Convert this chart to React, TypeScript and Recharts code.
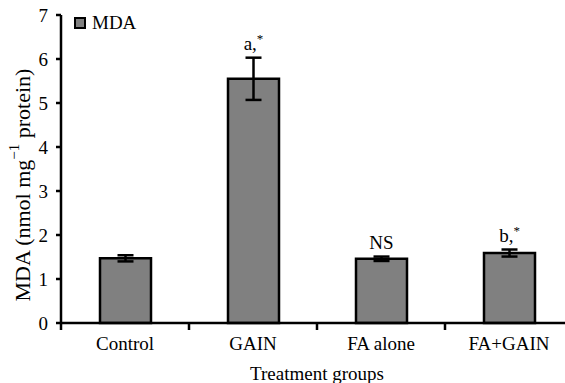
import React from "react";
import { BarChart, Bar, XAxis, YAxis, ErrorBar, LabelList, Legend, Label } from "recharts";

const categories = ["Control", "GAIN", "FA alone", "FA+GAIN"];
const mdaValues = [1.47, 5.55, 1.46, 1.59];
const mdaErrors = [0.07, 0.48, 0.05, 0.08];
const annotations = ["", "a,*", "NS", "b,*"];
const yTicks = [0, 1, 2, 3, 4, 5, 6, 7];

const data = categories.map((c, i) => ({ name: c, mda: mdaValues[i], err: mdaErrors[i] }));

const FONT = "'Liberation Serif', 'Times New Roman', serif";
const FS = 19;
const CHART_W = 573;
const Y_W = 61;
const MARGIN = { top: 15, right: 0, bottom: 0, left: 0 };
const BAND = (CHART_W - Y_W - MARGIN.right) / categories.length;

const XTick = (props: any) => {
  const { x, y, payload } = props;
  return (
    <g>
      <line x1={x - BAND / 2} x2={x - BAND / 2} y1={y} y2={y + 7} stroke="#000" strokeWidth={2.5} />
      <text x={x} y={y + 27} textAnchor="middle" fontFamily={FONT} fontSize={FS} fill="#000">
        {payload.value}
      </text>
    </g>
  );
};

const XLabel = (props: any) => {
  const { viewBox } = props;
  return (
    <text x={viewBox.x + viewBox.width / 2} y={viewBox.y + 57} textAnchor="middle" fontFamily={FONT} fontSize={FS} fill="#000">
      Treatment groups
    </text>
  );
};

const NoteLabel = (props: any) => {
  const { x, y, width, height, value, index } = props;
  const note = annotations[index];
  if (!note) return null;
  const ppu = height / value;
  const top = y - mdaErrors[index] * ppu;
  const cx = x + width / 2;
  const parts = note.split("*");
  const hasStar = note.includes("*");
  return (
    <text x={cx} y={top - 8} textAnchor="middle" fontFamily={FONT} fontSize={FS} fill="#000">
      <tspan>{parts[0]}</tspan>
      {hasStar && <tspan dy={-7} fontSize={13}>*</tspan>}
    </text>
  );
};

const YLabel = () => {
  const cx = 22;
  const cy = 185;
  return (
    <text x={cx} y={cy} transform={`rotate(-90, ${cx}, ${cy})`} textAnchor="middle" dominantBaseline="central" fontFamily={FONT} fontSize={22} fill="#000">
      <tspan>MDA (nmol mg</tspan>
      <tspan dy={-8} fontSize={15}>−1</tspan>
      <tspan dy={8}> protein)</tspan>
    </text>
  );
};

const LegendContent = () => (
  <div style={{ display: "flex", alignItems: "center", fontFamily: FONT, fontSize: FS, lineHeight: "20px", color: "#000" }}>
    <svg width={12} height={12} style={{ marginRight: 6 }}>
      <rect x={1} y={1} width={10} height={10} fill="#808080" stroke="#000" strokeWidth={2} />
    </svg>
    <span>MDA</span>
  </div>
);

export default function App() {
  return (
    <div style={{ position: "absolute", left: 0, top: 0, width: 565, height: 383, overflow: "hidden", background: "#fff" }}>
      <BarChart width={CHART_W} height={383} data={data} margin={MARGIN} barSize={51}>
        <Legend
          content={<LegendContent />}
          layout="horizontal"
          verticalAlign="middle"
          align="center"
          wrapperStyle={{ top: 13, left: 74, width: "auto" }}
        />
        <XAxis
          dataKey="name"
          tick={<XTick />}
          tickLine={false}
          tickSize={0}
          tickMargin={0}
          axisLine={{ stroke: "#000", strokeWidth: 2.5 }}
          interval={0}
          height={60}
        >
          <Label content={<XLabel />} />
        </XAxis>
        <YAxis
          domain={[0, 7]}
          ticks={yTicks}
          interval={0}
          tickSize={5}
          tickMargin={8}
          tickLine={{ stroke: "#000", strokeWidth: 2.5 }}
          axisLine={{ stroke: "#000", strokeWidth: 2.5 }}
          tick={{ fontFamily: FONT, fontSize: FS, fill: "#000" }}
          width={Y_W}
        >
          <Label content={<YLabel />} />
        </YAxis>
        <Bar dataKey="mda" fill="#808080" stroke="#000" strokeWidth={2.5} isAnimationActive={false}>
          <ErrorBar dataKey="err" width={8} stroke="#000" strokeWidth={2.5} direction="y" />
          <LabelList dataKey="mda" content={<NoteLabel />} />
        </Bar>
      </BarChart>
    </div>
  );
}
